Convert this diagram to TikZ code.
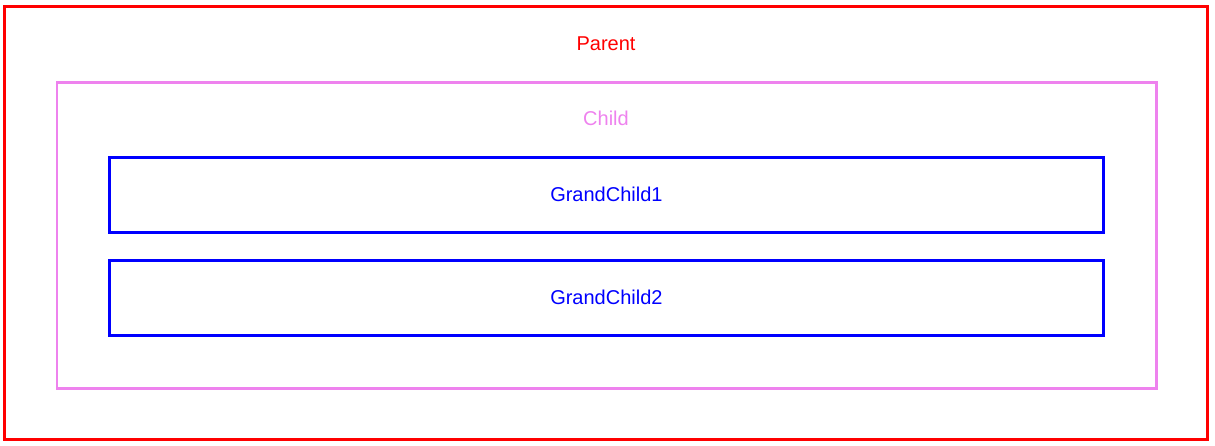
\documentclass[tikz,border=0pt]{standalone}
\usepackage{fontspec}
\setmainfont{Liberation Sans}
\definecolor{violetline}{HTML}{EE82EE}

\begin{document}
\begin{tikzpicture}[x=1pt,y=-1pt,
  box/.style={draw,line width=2.6pt,inner sep=0pt,outer sep=0pt},
  boxtext/.style={font=\fontsize{20}{24}\selectfont}]
\useasboundingbox (0,0) rectangle (1215,446);
\node[box,red,minimum width=1203pt,minimum height=433pt] (parent) at (606,223) {};
\node[boxtext,red] (parentlabel) at (606,43.5) {Parent};
  \node[box,violetline,minimum width=1099.5pt,minimum height=306pt] (child) at (606.7,235.3) {};
  \node[boxtext,violetline] (childlabel) at (606,118.5) {Child};
  \node[box,blue,boxtext,minimum width=994pt,minimum height=75pt] (grandchild1) at (606.4,194.8) {GrandChild1};
  \node[box,blue,boxtext,minimum width=994pt,minimum height=75pt] (grandchild2) at (606.4,297.8) {GrandChild2};
\end{tikzpicture}
\end{document}
